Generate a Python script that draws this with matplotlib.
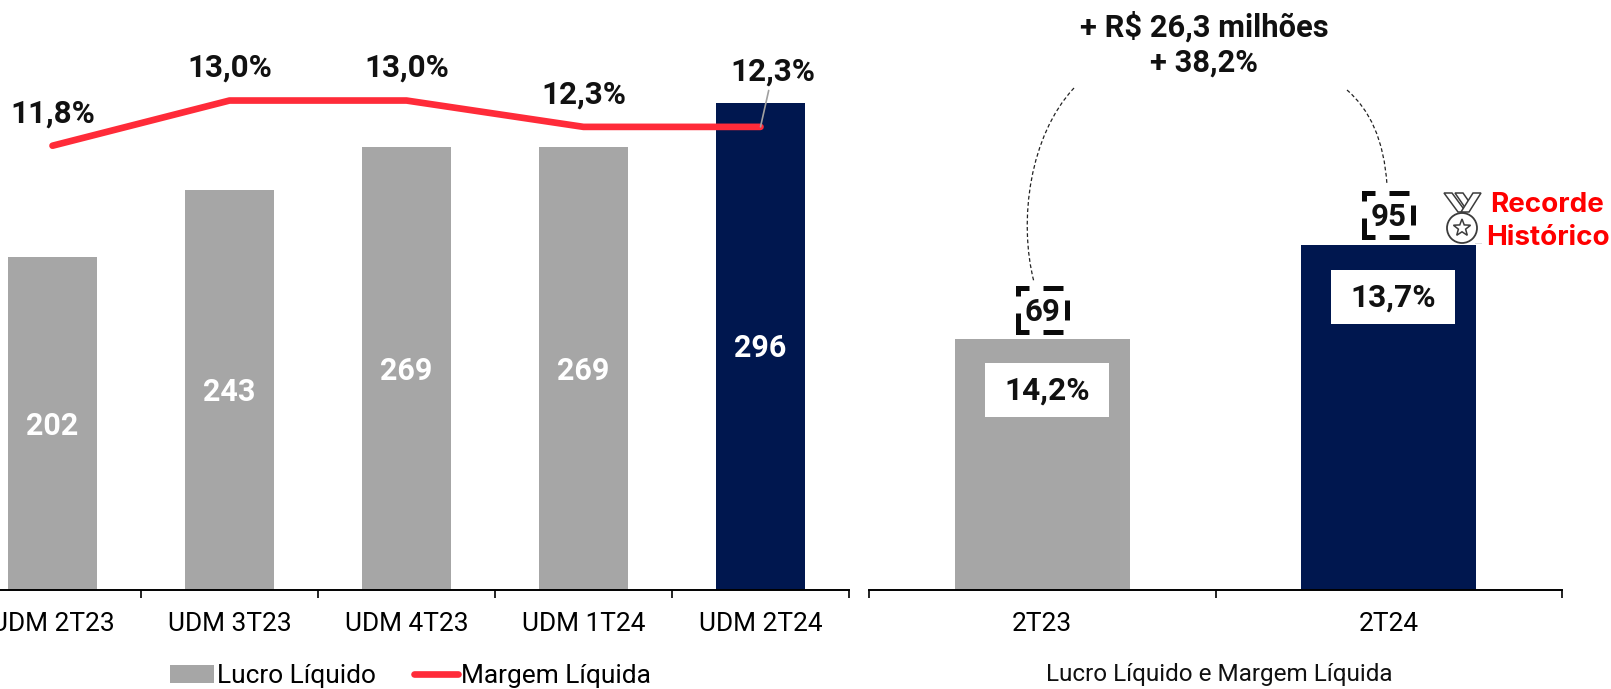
import matplotlib
matplotlib.use("Agg")
import matplotlib.pyplot as plt
from matplotlib.patches import Circle, PathPatch, Polygon, Rectangle
from matplotlib.path import Path
import numpy as np

plt.rcParams['font.family'] = ['Roboto', 'DejaVu Sans']

#Data
udm_labels = ["UDM 2T23", "UDM 3T23", "UDM 4T23", "UDM 1T24", "UDM 2T24"]
udm_lucro = [202, 243, 269, 269, 296]
udm_margem = [11.8, 13.0, 13.0, 12.3, 12.3]
udm_margem_labels = ["11,8%", "13,0%", "13,0%", "12,3%", "12,3%"]

tri_labels = ["2T23", "2T24"]
tri_lucro = [69, 95]
tri_margem_labels = ["14,2%", "13,7%"]

GREY = "#A6A6A6"
NAVY = "#00174F"
RED = "#FF2B39"
W, H = 1611, 689
BASE = 590


def axes_box(x0, x1):
    return [x0 / W, (H - BASE) / H, (x1 - x0) / W, BASE / H]


def style_axis(ax, n):
    for s in ["top", "left", "right"]:
        ax.spines[s].set_visible(False)
    ax.spines["bottom"].set_linewidth(1.4)
    ax.set_yticks([])
    ax.set_xlim(-0.5, n - 0.5)
    ax.set_xticks(np.arange(n + 1) - 0.5, minor=True)
    ax.tick_params(axis="x", which="minor", length=6, width=1.2)
    ax.tick_params(axis="x", which="major", length=0, pad=16, labelsize=18.9)


fig = plt.figure(figsize=(W / 100, H / 100), dpi=100)

#Left chart
ax = fig.add_axes(axes_box(-36, 849))
x = np.arange(len(udm_labels))
colors = [GREY] * 4 + [NAVY]
bars = ax.bar(x, udm_lucro, width=0.5, color=colors, label="Lucro Líquido")
ax.set_ylim(0, 358.4)
ax.set_xticks(x, udm_labels)
style_axis(ax, len(udm_labels))
for i, v in enumerate(udm_lucro):
    ax.annotate(str(v), (i, v / 2), xytext=(0, -1.5), textcoords="offset points", ha="center",
                va="center", color="white", fontsize=22, fontweight="bold")

ax_m = ax.twinx()
ax_m.set_ylim(0, 15.67)
ax_m.axis("off")
line, = ax_m.plot(x, udm_margem, color=RED, lw=4.8, solid_capstyle="round",
                  solid_joinstyle="round", label="Margem Líquida")
for i, lab in enumerate(udm_margem_labels[:-1]):
    ax_m.annotate(lab, (i, udm_margem[i]), xytext=(0, 23.5), textcoords="offset points",
                  ha="center", va="center", fontsize=22.6, fontweight="bold", color="#111111")
ax_m.annotate(udm_margem_labels[-1], (4, udm_margem[-1]), xytext=(9, 40), textcoords="offset points",
              ha="center", va="center", fontsize=22.6, fontweight="bold", color="#111111",
              arrowprops=dict(arrowstyle="-", color="#A0A0A0", lw=1.2, shrinkA=1, shrinkB=0))

fig.legend(handles=[bars[0], line], labels=["Lucro Líquido", "Margem Líquida"], ncol=2,
           loc="center", bbox_to_anchor=(410.5 / W, 1 - 676 / H), frameon=False, fontsize=18.9,
           handlelength=1.7, handleheight=0.65, handletextpad=0.12, columnspacing=1.42, borderpad=0)

#Right chart
ax_r = fig.add_axes(axes_box(869, 1562))
x_r = np.arange(len(tri_labels))
bars_r = ax_r.bar(x_r, tri_lucro, width=0.505, color=[GREY, NAVY])
ax_r.set_ylim(0, 162.4)
ax_r.set_xticks(x_r, tri_labels)
style_axis(ax_r, len(tri_labels))
for i, v in enumerate(tri_lucro):
    ax_r.annotate(str(v), (i, v), xytext=(0, 20), textcoords="offset points", ha="center",
                  va="center", fontsize=22.5, fontweight="bold", color="#111111")

#Overlay in pixel coordinates for the annotations
ov = fig.add_axes([0, 0, 1, 1], zorder=5)
ov.set_xlim(0, W)
ov.set_ylim(H, 0)
ov.axis("off")

ov.text(1219.5, 675, "Lucro Líquido e Margem Líquida", ha="center", va="center", fontsize=17.5, color="#111111")
ov.text(1204, 27, "+ R$ 26,3 milhões", ha="center", va="center", fontsize=22.2, fontweight="bold", color="#111111")
ov.text(1204, 63, "+ 38,2%", ha="center", va="center", fontsize=22.2, fontweight="bold", color="#111111")

#White boxes with the margin
for (bx, by), lab in zip([(985, 363), (1331, 270)], tri_margem_labels):
    ov.add_patch(Rectangle((bx, by), 124, 54, facecolor="white", edgecolor="none"))
    ov.text(bx + 62, by + 28, lab, ha="center", va="center", fontsize=22.8, fontweight="bold", color="#111111")

#Broken brackets around the values
bracket = [[(-24, -14), (-24, -22), (-13, -22)], [(1, -22), (21, -22)], [(25, -10), (25, 10)],
           [(1, 22), (21, 22)], [(-24, 3), (-24, 22), (-13, 22)]]
for cx, cy in [(1042, 310), (1388, 215)]:
    for seg in bracket:
        seg = np.array(seg)
        ov.plot(seg[:, 0] + cx, seg[:, 1] + cy, color="#0A0A0A", lw=3.6, solid_capstyle="butt", solid_joinstyle="miter")

#Dashed curves
curve_l = Path([(1074, 88), (1030, 135), (1018, 220), (1034, 282)], [Path.MOVETO, Path.CURVE4, Path.CURVE4, Path.CURVE4])
curve_r = Path([(1347, 90), (1370, 110), (1384, 140), (1387, 185)], [Path.MOVETO, Path.CURVE4, Path.CURVE4, Path.CURVE4])
for c in [curve_l, curve_r]:
    ov.add_patch(PathPatch(c, facecolor="none", edgecolor="#222222", lw=0.9, ls=(0, (3, 2))))

#Medal
mc = "#3C3C3C"
ov.add_patch(Rectangle((1475, 243), 7, 1, facecolor="#DDDDDD", edgecolor="none"))
ov.add_patch(Circle((1462, 228), 15, facecolor="white", edgecolor=mc, lw=1.3))
ang = np.pi / 2 + np.arange(10) * np.pi / 5
rad = np.where(np.arange(10) % 2 == 0, 9, 3.8)
ov.add_patch(Polygon(np.c_[1462 + rad * np.cos(ang), 228 - rad * np.sin(ang)], facecolor="white", edgecolor=mc, lw=1.1))
for pts in [[(1444, 193), (1452, 193), (1466, 212), (1458, 212)],
            [(1455, 193), (1463, 193), (1470, 203), (1466, 209)],
            [(1481, 193), (1473, 193), (1461, 212), (1469, 212)]]:
    ov.add_patch(Polygon(pts, facecolor="white", edgecolor=mc, lw=1.1))

ov.text(1547, 205, "Recorde", family=["Inter", "DejaVu Sans"], ha="center", va="center", fontsize=20, fontweight="bold", color="#FF0000")
ov.text(1548, 238, "Histórico", family=["Inter", "DejaVu Sans"], ha="center", va="center", fontsize=20, fontweight="bold", color="#FF0000")

fig.savefig("out.png", dpi=100)
